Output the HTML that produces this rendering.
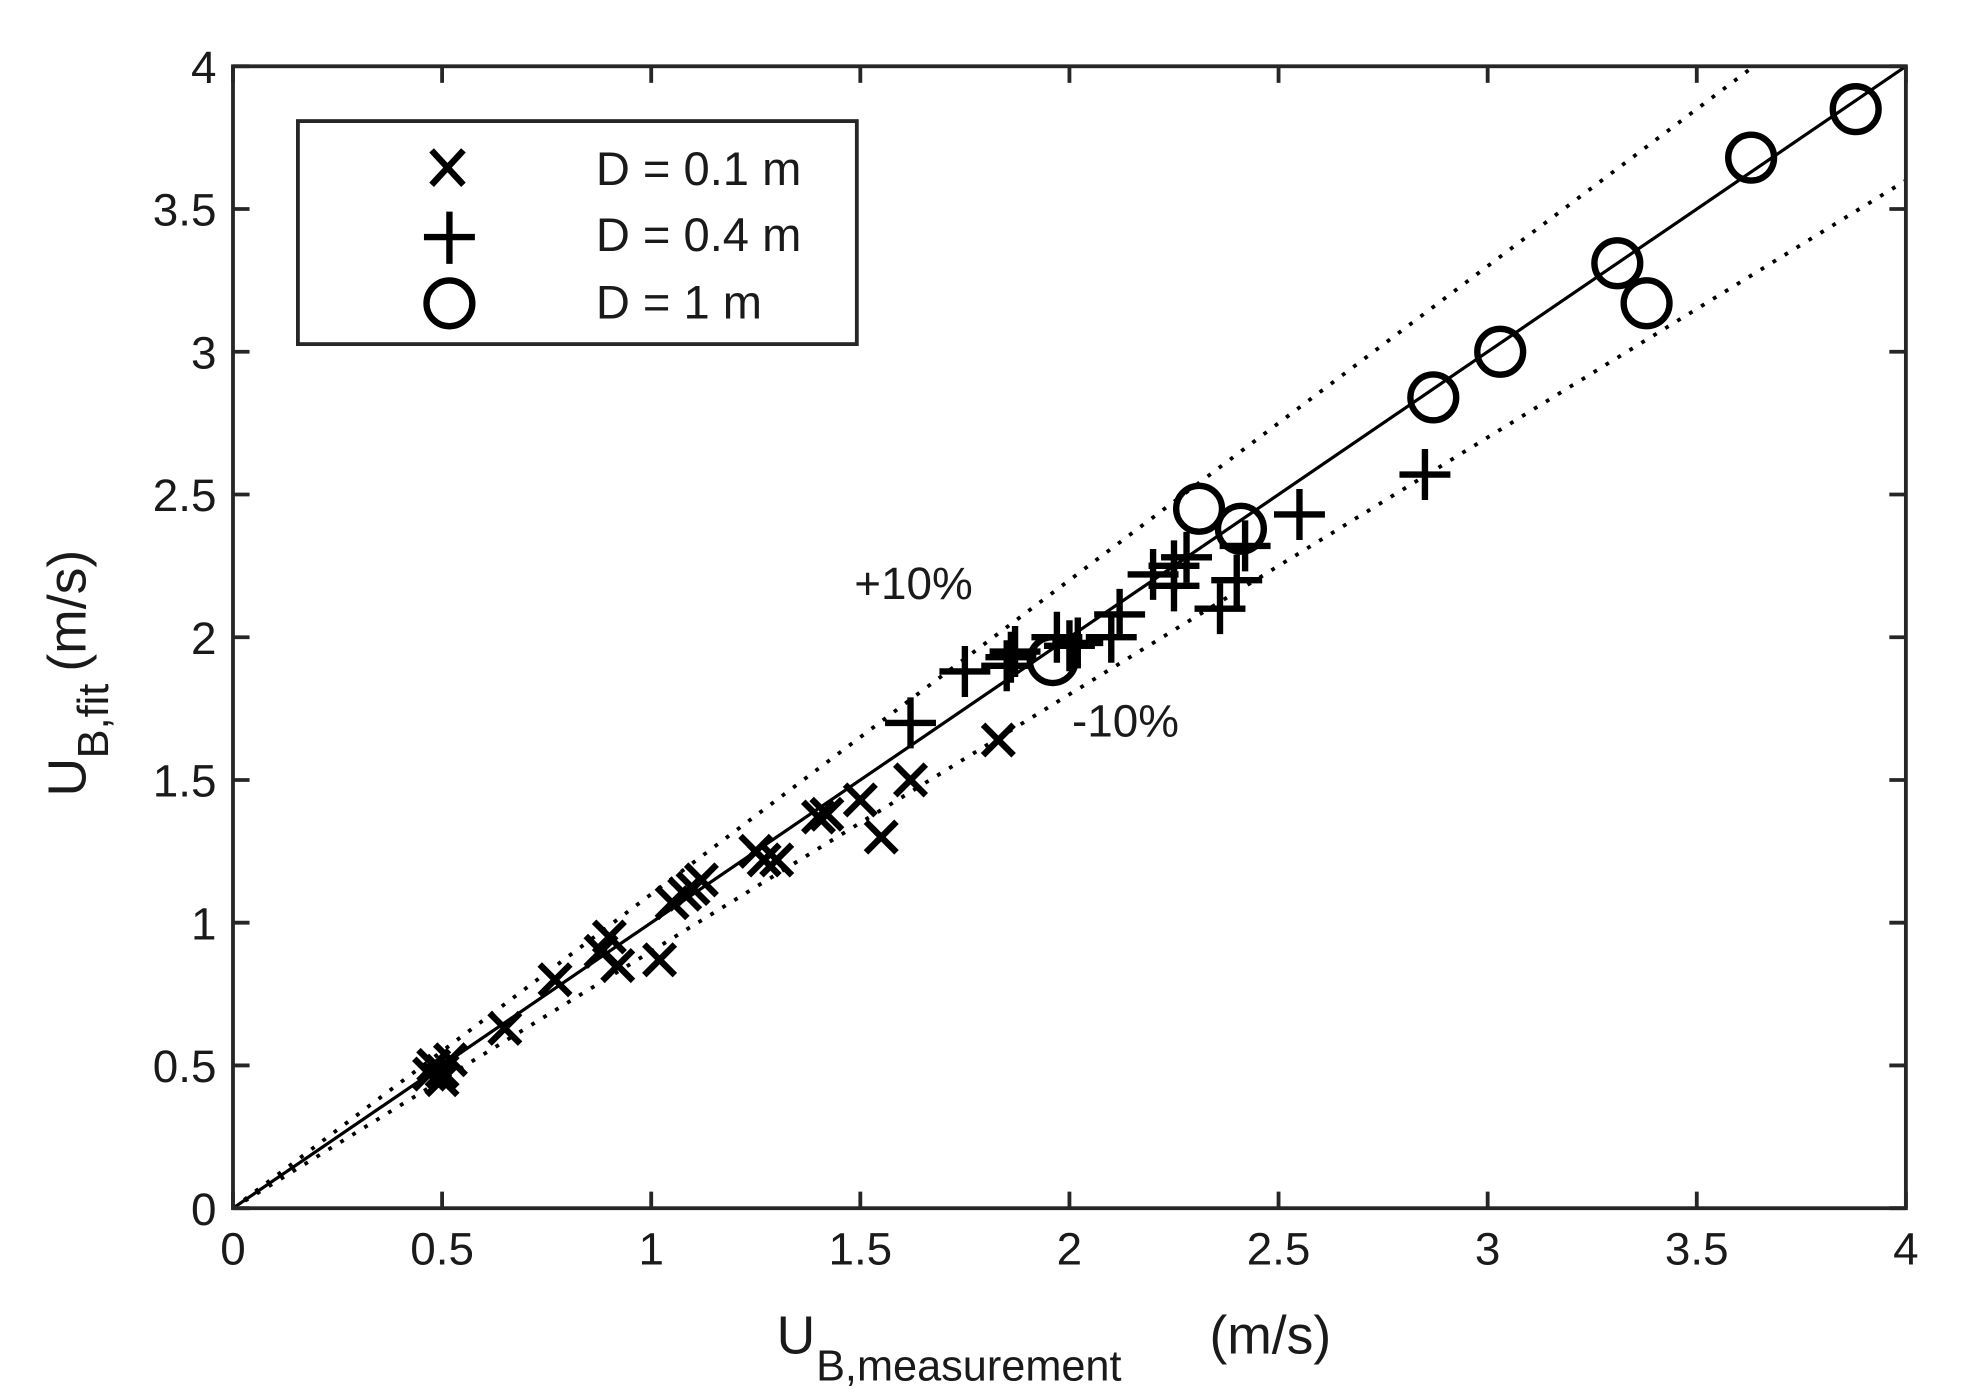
<!DOCTYPE html>
<html><head><meta charset="utf-8"><style>
html,body{margin:0;padding:0;background:#fff;}
svg{display:block;}
text{font-family:"Liberation Sans",Arial,sans-serif;fill:#1a1a1a;}
</style></head><body>
<svg width="1967" height="1393" viewBox="0 0 1545 1093" preserveAspectRatio="none" xmlns="http://www.w3.org/2000/svg">
<rect width="1545" height="1093" fill="#fff"/>
<g id="plot"></g>
<rect x="183" y="52" width="1314" height="896" fill="none" stroke="#262626" stroke-width="3"/>
<g id="ticks" stroke="#262626" stroke-width="3"></g>
<g id="labels" font-size="36"></g>
<text x="610" y="1062" font-size="42">U</text>
<text x="641" y="1083" font-size="34">B,measurement</text>
<text x="950" y="1062" font-size="42">(m/s)</text>
<g transform="translate(67,625) rotate(-90)">
<text x="0" y="0" font-size="42">U</text>
<text x="30" y="18" font-size="34">B,fit</text>
<text x="98" y="0" font-size="42">(m/s)</text>
</g>
<text x="671" y="470" font-size="36">+10%</text>
<text x="842" y="578" font-size="36">-10%</text>
<rect x="234" y="95" width="439" height="175" fill="#fff" stroke="#262626" stroke-width="3"/>
<g stroke="#000" stroke-width="5" fill="none">
<path d="M339 118 L364 145 M364 118 L339 145"/>
<path d="M333 186 L373 186 M353 166 L353 207"/>
<ellipse cx="353" cy="238" rx="18" ry="18"/>
</g>
<text x="468" y="145" font-size="37">D = 0.1 m</text>
<text x="468" y="197" font-size="37">D = 0.4 m</text>
<text x="468" y="250" font-size="37">D = 1 m</text>
<script>
var X=function(v){return 183+v*328.5},Y=function(v){return 948-v*224};
var ns="http://www.w3.org/2000/svg";
function el(p,t,a){var e=document.createElementNS(ns,t);for(var k in a)e.setAttribute(k,a[k]);p.appendChild(e);return e;}
var g=document.getElementById('plot'),tk=document.getElementById('ticks'),lb=document.getElementById('labels');
el(g,'line',{x1:X(0),y1:Y(0),x2:X(4),y2:Y(4),stroke:'#000','stroke-width':2.5});
el(g,'line',{x1:X(0),y1:Y(0),x2:X(4/1.1),y2:Y(4),stroke:'#000','stroke-width':3,'stroke-dasharray':'3 8'});
el(g,'line',{x1:X(0),y1:Y(0),x2:X(4),y2:Y(3.6),stroke:'#000','stroke-width':3,'stroke-dasharray':'3 8'});
for(var i=0;i<=8;i++){var v=i/2,x=X(v),y=Y(v);
el(tk,'line',{x1:x,y1:948,x2:x,y2:935});el(tk,'line',{x1:x,y1:52,x2:x,y2:65});
el(tk,'line',{x1:183,y1:y,x2:196,y2:y});el(tk,'line',{x1:1497,y1:y,x2:1484,y2:y});
var s=String(v);var t=el(lb,'text',{x:x,y:992,'text-anchor':'middle'});t.textContent=s;
var t2=el(lb,'text',{x:170,y:y+13,'text-anchor':'end'});t2.textContent=s;}
var xs=[[0.47,0.47],[0.5,0.48],[0.48,0.5],[0.52,0.52],[0.5,0.45],[0.65,0.63],[0.77,0.8],[0.88,0.9],[0.9,0.95],[0.92,0.85],[1.02,0.87],[1.05,1.07],[1.08,1.1],[1.1,1.12],[1.12,1.15],[1.25,1.25],[1.27,1.22],[1.3,1.22],[1.4,1.37],[1.42,1.38],[1.5,1.43],[1.55,1.3],[1.62,1.5],[1.83,1.64]];
var ps=[[1.62,1.7],[1.75,1.88],[1.85,1.9],[1.87,1.95],[1.86,1.93],[1.97,2.0],[2.0,1.97],[2.02,1.98],[2.1,2.0],[2.12,2.08],[2.2,2.22],[2.25,2.25],[2.28,2.28],[2.25,2.18],[2.36,2.1],[2.4,2.2],[2.42,2.32],[2.55,2.43],[2.85,2.57]];
var os=[[1.96,1.92],[2.31,2.45],[2.41,2.38],[2.87,2.84],[3.03,3.0],[3.31,3.31],[3.38,3.17],[3.63,3.68],[3.88,3.85]];
xs.forEach(function(p){var x=X(p[0]),y=Y(p[1]);el(g,'path',{d:'M'+(x-12)+' '+(y-12)+'L'+(x+12)+' '+(y+12)+'M'+(x+12)+' '+(y-12)+'L'+(x-12)+' '+(y+12),stroke:'#000','stroke-width':5,fill:'none'});});
ps.forEach(function(p){var x=X(p[0]),y=Y(p[1]);el(g,'path',{d:'M'+(x-20)+' '+y+'L'+(x+20)+' '+y+'M'+x+' '+(y-20)+'L'+x+' '+(y+20),stroke:'#000','stroke-width':5,fill:'none'});});
os.forEach(function(p){el(g,'circle',{cx:X(p[0]),cy:Y(p[1]),r:18,stroke:'#000','stroke-width':5,fill:'none'});});
</script>
</svg>
</body></html>
